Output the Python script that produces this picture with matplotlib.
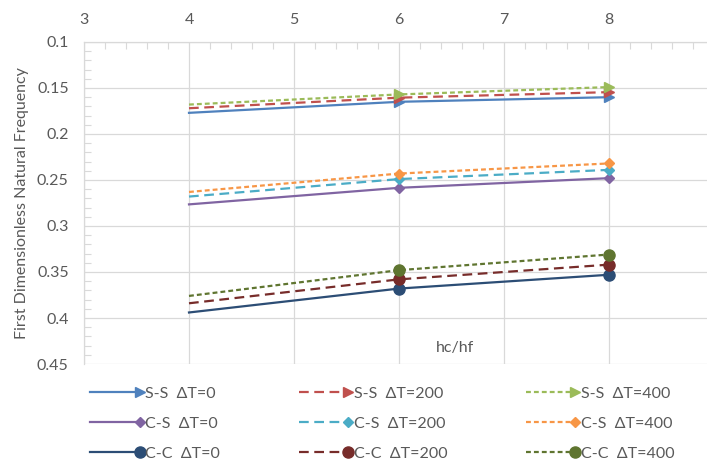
import numpy as np
import matplotlib
matplotlib.use("Agg")
import matplotlib.pyplot as plt
from matplotlib.legend_handler import HandlerLine2D
from matplotlib.ticker import MultipleLocator

plt.rcParams['font.family'] = ['Lato', 'DejaVu Sans']
plt.rcParams['lines.scale_dashes'] = False

# hc/hf ratios and first dimensionless natural frequency for each case
hc_hf = [4, 6, 8]
ss_0 = [0.177, 0.165, 0.160]
ss_200 = [0.172, 0.1605, 0.1545]
ss_400 = [0.168, 0.157, 0.149]
cs_0 = [0.2765, 0.2585, 0.248]
cs_200 = [0.268, 0.249, 0.239]
cs_400 = [0.263, 0.243, 0.232]
cc_0 = [0.394, 0.368, 0.353]
cc_200 = [0.384, 0.358, 0.342]
cc_400 = [0.376, 0.348, 0.331]

labels = ['S-S  ΔT=0', 'S-S  ΔT=200', 'S-S  ΔT=400',
          'C-S  ΔT=0', 'C-S  ΔT=200', 'C-S  ΔT=400',
          'C-C  ΔT=0', 'C-C  ΔT=200', 'C-C  ΔT=400']

long_dash = (0, (7, 4))
short_dash = (0, (3.5, 2.2))

series = [
    (ss_0, '#4F81BD', '-', '>', 7),
    (ss_200, '#C0504D', long_dash, '>', 7),
    (ss_400, '#9BBB59', short_dash, '>', 7),
    (cs_0, '#8064A2', '-', 'D', 5.5),
    (cs_200, '#4BACC6', long_dash, 'D', 5.5),
    (cs_400, '#F79646', short_dash, 'D', 5.5),
    (cc_0, '#2C4D75', '-', 'o', 8),
    (cc_200, '#772C2A', long_dash, 'o', 8),
    (cc_400, '#5F7530', short_dash, 'o', 8),
]


class EndMarker(HandlerLine2D):
    # legend key: line with one marker at its right end
    def create_artists(self, *args, **kwargs):
        arts = super().create_artists(*args, **kwargs)
        for a in arts:
            n = len(a.get_xdata())
            a.set_markevery([n - 1])
        return arts


txt = '#595959'
grid = '#d9d9d9'
fs = 11.5

fig = plt.figure(figsize=(7.07, 4.62), dpi=100)
ax = fig.add_axes([84 / 707, 1 - 364 / 462, 623 / 707, 322 / 462])

handles = []
for (vals, col, ls, mk, ms), lab in zip(series, labels):
    h, = ax.plot(hc_hf, vals, color=col, linestyle=ls, lw=1.6,
                 marker=mk, markersize=ms, markevery=[1, 2],
                 markerfacecolor=col, markeredgecolor=col, label=lab)
    handles.append(h)

ax.set_xlim(3, 3 + 623 / 105)
ax.set_ylim(0.45, 0.1)
ax.xaxis.tick_top()
ax.xaxis.set_minor_locator(MultipleLocator(0.2))
ax.yaxis.set_minor_locator(MultipleLocator(0.01))
ax.set_xticks([3, 4, 5, 6, 7, 8])
ax.set_xticklabels(['3', '4', '5', '6', '7', '8'])
ax.set_yticks([0.1, 0.15, 0.2, 0.25, 0.3, 0.35, 0.4, 0.45])
ax.set_yticklabels(['0.1', '0.15', '0.2', '0.25', '0.3', '0.35', '0.4', '0.45'])

ax.tick_params(which='major', length=0, labelsize=fs, colors=txt, pad=11)
ax.tick_params(which='minor', direction='in', length=5, color=grid, width=0.8)
ax.tick_params(axis='x', which='both', top=True, bottom=False)
ax.grid(True, which='major', color=grid, lw=0.9)
ax.set_axisbelow(True)

for s in ['right', 'bottom']:
    ax.spines[s].set_visible(False)
for s in ['left', 'top']:
    ax.spines[s].set_color(grid)
    ax.spines[s].set_linewidth(0.9)

ax.set_ylabel('First Dimensionless Natural Frequency', fontsize=fs, color=txt, labelpad=6)
ax.text(0.595, 0.05, 'hc/hf', transform=ax.transAxes, ha='center', va='center',
        fontsize=fs, color=txt)

# legend is filled column by column, so reorder to read row-wise
order = [0, 3, 6, 1, 4, 7, 2, 5, 8]
leg = fig.legend([handles[i] for i in order], [labels[i] for i in order],
                 ncol=3, loc='upper left', bbox_to_anchor=(76 / 707, 1 - 372 / 462),
                 frameon=False, fontsize=fs, handlelength=3.1, handletextpad=0.35,
                 columnspacing=4.9, labelspacing=1.0,
                 handler_map={h: EndMarker() for h in handles})
for t in leg.get_texts():
    t.set_color(txt)

fig.savefig('out.png', dpi=100)
